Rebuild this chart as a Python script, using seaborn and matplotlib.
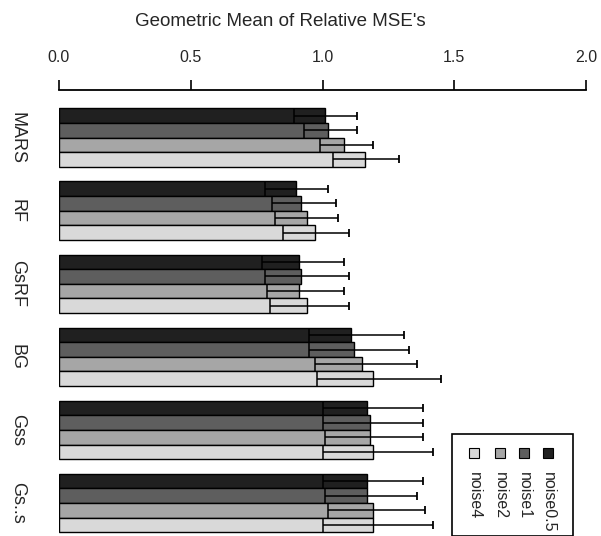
import numpy as np
import pandas as pd
import matplotlib
matplotlib.use("Agg")
import matplotlib.pyplot as plt
import seaborn as sns
from matplotlib.patches import Rectangle

# --- data ---
methods = ["MARS", "RF", "GsRF", "BG", "Gss", "Gs..s"]
noise_levels = ["noise0.5", "noise1", "noise2", "noise4"]

# geometric mean of relative MSE, one list per noise level (in method order)
gm_noise05 = [1.01, 0.90, 0.91, 1.11, 1.17, 1.17]
gm_noise1 = [1.02, 0.92, 0.92, 1.12, 1.18, 1.17]
gm_noise2 = [1.08, 0.94, 0.91, 1.15, 1.18, 1.19]
gm_noise4 = [1.16, 0.97, 0.94, 1.19, 1.19, 1.19]

# lower / upper interval ends
lo_noise05 = [0.89, 0.78, 0.77, 0.95, 1.00, 1.00]
lo_noise1 = [0.93, 0.81, 0.78, 0.95, 1.00, 1.01]
lo_noise2 = [0.99, 0.82, 0.79, 0.97, 1.01, 1.02]
lo_noise4 = [1.04, 0.85, 0.80, 0.98, 1.00, 1.00]

hi_noise05 = [1.13, 1.02, 1.08, 1.31, 1.38, 1.38]
hi_noise1 = [1.13, 1.05, 1.10, 1.33, 1.38, 1.36]
hi_noise2 = [1.19, 1.06, 1.08, 1.36, 1.38, 1.39]
hi_noise4 = [1.29, 1.10, 1.10, 1.45, 1.42, 1.42]

gm = [gm_noise05, gm_noise1, gm_noise2, gm_noise4]
lo = [lo_noise05, lo_noise1, lo_noise2, lo_noise4]
hi = [hi_noise05, hi_noise1, hi_noise2, hi_noise4]

grays = ["#202020", "#5e5e5e", "#a6a6a6", "#d9d9d9"]

rows = []
for lvl, vals in zip(noise_levels, gm):
    for m, v in zip(methods, vals):
        rows.append({"method": m, "noise": lvl, "value": v})
df = pd.DataFrame(rows)

sns.set_style("white")
plt.rcParams["font.family"] = ["Liberation Sans", "DejaVu Sans"]

fig = plt.figure(figsize=(6.01, 5.36), dpi=100)
ax = fig.add_axes([59 / 601, 0.0, (586 - 59) / 601, 1 - 90 / 536])

sns.barplot(data=df, x="value", y="method", hue="noise", order=methods,
            hue_order=noise_levels, palette=grays, edgecolor="black",
            linewidth=1.0, width=0.8, legend=False, errorbar=None, ax=ax)

# error bars: whisker + cap to the right, a full-height tick at the lower end
for cont, vals, lows, highs in zip(ax.containers, gm, lo, hi):
    for bar, v, l, h in zip(cont.patches, vals, lows, highs):
        yc = bar.get_y() + bar.get_height() / 2
        ax.errorbar(v, yc, xerr=[[v - l], [h - v]], fmt="none",
                    ecolor="black", elinewidth=1.1, capsize=0, zorder=3)
        ax.vlines(h, yc - 0.055, yc + 0.055, color="black", lw=1.3, zorder=3)
        ax.vlines(l, bar.get_y(), bar.get_y() + bar.get_height(),
                  color="black", lw=1.1, zorder=3)

ax.set_xlim(0, 2.0)
ax.set_ylim(5.45, -0.65)
ax.set_xticks([0.0, 0.5, 1.0, 1.5, 2.0])
ax.set_xticklabels(["0.0", "0.5", "1.0", "1.5", "2.0"])
ax.xaxis.tick_top()
ax.tick_params(axis="x", direction="out", length=7, width=1.2, pad=11,
               labelsize=11.5, color="black")
ax.tick_params(axis="y", length=0, pad=30, labelsize=13)
for lab in ax.get_yticklabels():
    lab.set_rotation(-90)
    lab.set_va("center")
    lab.set_ha("center")
ax.set_xlabel("")
ax.set_ylabel("")

for side in ["left", "right", "bottom"]:
    ax.spines[side].set_visible(False)
ax.spines["top"].set_linewidth(1.3)
ax.spines["top"].set_color("black")

fig.text(280.5 / 601, 1 - 22 / 536, "Geometric Mean of Relative MSE's",
         ha="center", va="center", fontsize=13.5)

# hand-made legend, rotated like the rest of the figure
W, H = 601.0, 536.0
fig.patches.append(Rectangle((452 / W, 0), (573 - 452) / W, 1 - 434 / H,
                             transform=fig.transFigure, fill=False,
                             edgecolor="black", lw=1.2))
legend_x = [548, 524, 500, 474]
for xpx, lvl, c in zip(legend_x, noise_levels, grays):
    fig.patches.append(Rectangle(((xpx - 5) / W, 1 - 458 / H), 10 / W, 10 / H,
                                 transform=fig.transFigure, facecolor=c,
                                 edgecolor="black", lw=0.8))
    fig.text(xpx / W, 1 - 472 / H, lvl, rotation=-90, ha="center", va="top",
             fontsize=11.5)

fig.savefig("out.png", dpi=100)
